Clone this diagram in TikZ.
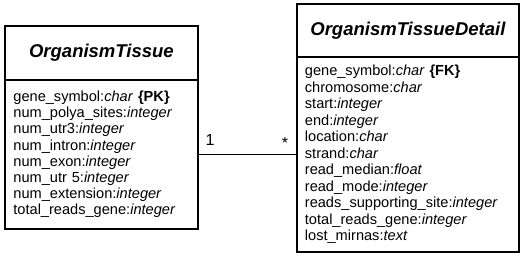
\documentclass[tikz,border=0pt]{standalone}
\usepackage{fontspec}
\setmainfont{Liberation Sans}
\begin{document}
\begin{tikzpicture}[x=1pt,y=-1pt,
  hdr/.style={draw, line width=1.8pt, inner sep=0pt, anchor=north west, font=\fontsize{18.5}{21}\selectfont\bfseries\itshape},
  attrs/.style={draw, line width=1.8pt, inner ysep=0pt, anchor=north west, align=left},
  lbl/.style={inner sep=0pt, font=\fontsize{16}{18}\selectfont}]
\useasboundingbox (0,0) rectangle (520,256);
% left class
\node[hdr, minimum width=193pt, minimum height=54pt] (lt) at (4,25) {OrganismTissue};
\node[attrs, text width=176pt, inner xsep=8.5pt, minimum height=149pt,
      font=\fontsize{14.6}{16.2}\selectfont] (lb) at (4,79)
 {gene\_symbol:\textit{char} \textbf{\{PK\}}\\
  num\_polya\_sites:\textit{integer}\\
  num\_utr3:\textit{integer}\\
  num\_intron:\textit{integer}\\
  num\_exon:\textit{integer}\\
  num\_utr 5:\textit{integer}\\
  num\_extension:\textit{integer}\\
  total\_reads\_gene:\textit{integer}};
% right class
\node[hdr, minimum width=222pt, minimum height=53pt] (rt) at (296,3) {OrganismTissueDetail};
\node[attrs, text width=206pt, inner xsep=8pt, minimum height=195pt,
      font=\fontsize{14.6}{16.5}\selectfont] (rb) at (296,56)
 {gene\_symbol:\textit{char} \textbf{\{FK\}}\\
  chromosome:\textit{char}\\
  start:\textit{integer}\\
  end:\textit{integer}\\
  location:\textit{char}\\
  strand:\textit{char}\\
  read\_median:\textit{float}\\
  read\_mode:\textit{integer}\\
  reads\_supporting\_site:\textit{integer}\\
  total\_reads\_gene:\textit{integer}\\
  lost\_mirnas:\textit{text}};
% association
\draw[line width=1pt] (lb.east) -- (rb.west);
\node[lbl] (m1) at (210,140) {1};
\node[lbl] (m2) at (285,143) {*};
\end{tikzpicture}
\end{document}
